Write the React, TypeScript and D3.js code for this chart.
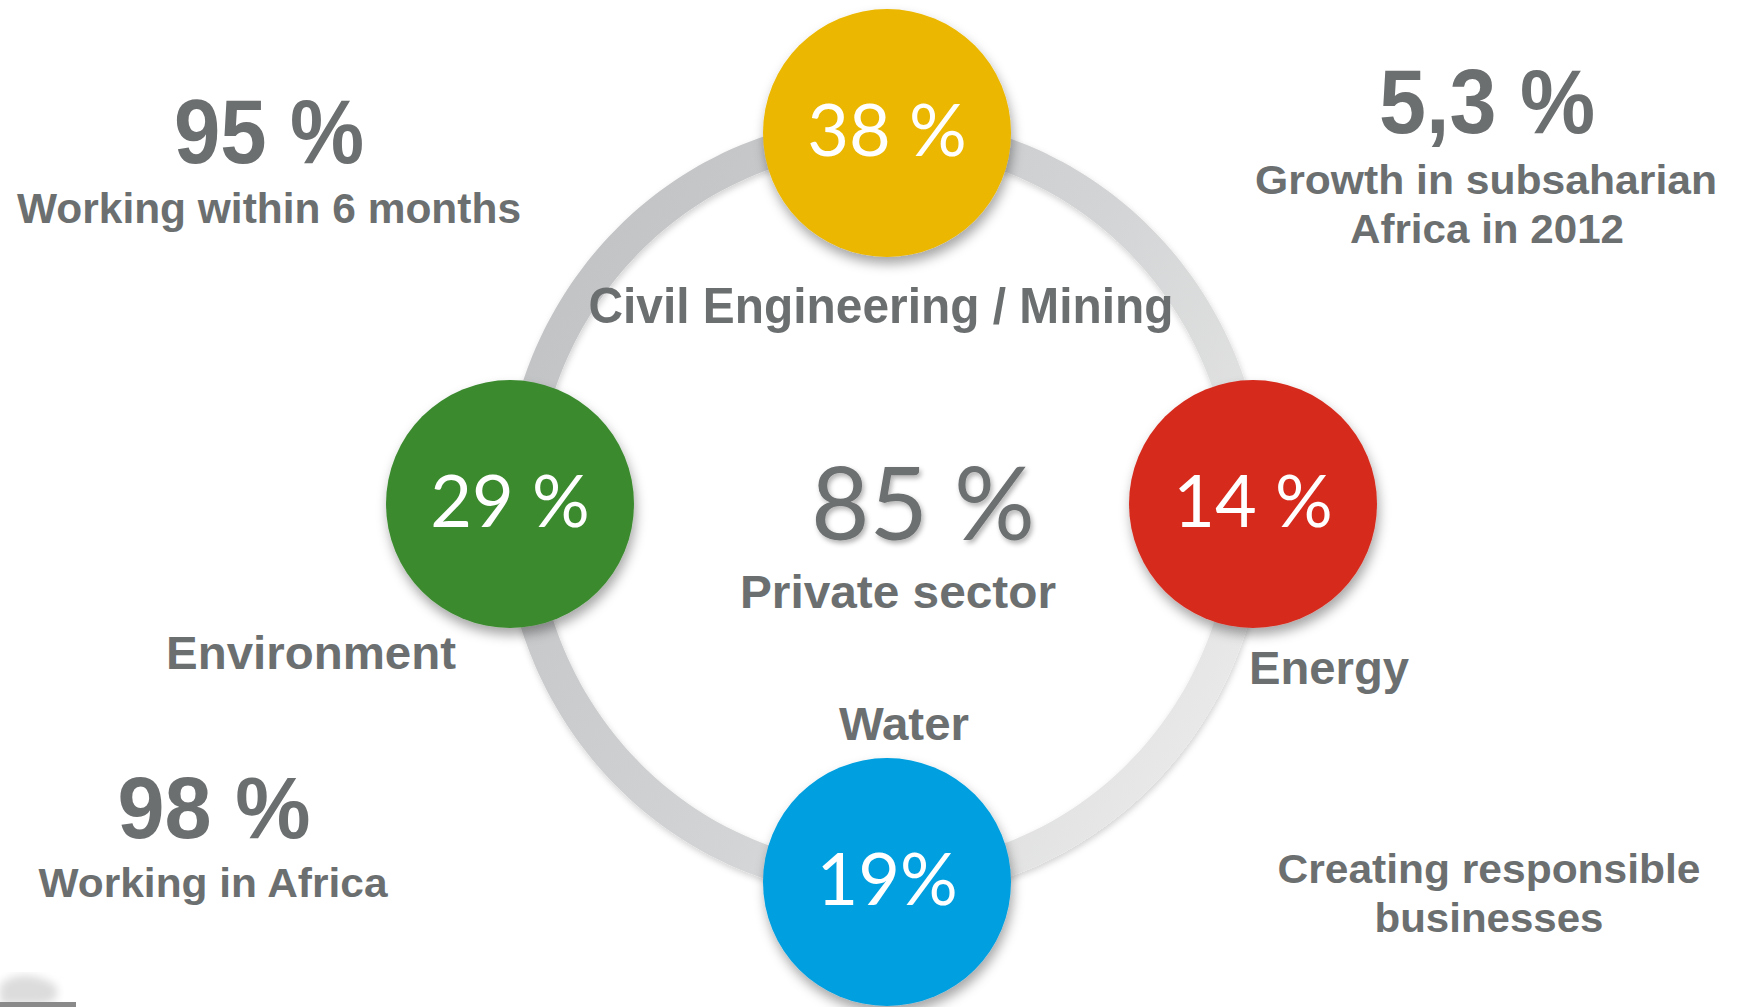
import React from "react";
import * as d3 from "d3";

// sectors around the ring, clockwise from the top
const sectorNames = ["Civil Engineering / Mining", "Energy", "Water", "Environment"];
const sectorShares = ["38 %", "14 %", "19%", "29 %"];
const sectorColors = ["#ebb700", "#d52b1e", "#009fdf", "#3b8a2f"];

const centerValue = "85 %";
const centerLabel = "Private sector";

// side facts
const factValues = ["95 %", "5,3 %", "98 %", ""];
const factLines = [
  ["Working within 6 months"],
  ["Growth in subsaharian", "Africa in 2012"],
  ["Working in Africa"],
  ["Creating responsible", "businesses"],
];

const W = 1737;
const H = 1007;
const GREY = "#6c6f70";
const BOLD = "'Liberation Sans', Arial, sans-serif";
const NUM = "Lato, 'Open Sans', sans-serif";

// text layout: [x, baseline, fontSize, textLength]
const sectorLabelPos: [number, number, number, number, string][] = [
  [881, 323, 50, 585, "middle"],
  [1249, 684, 46, 160, "start"],
  [904, 740, 46, 130, "middle"],
  [311, 669, 46, 290, "middle"],
];
const factValuePos = [
  [269, 163, 90, 190],
  [1487, 133, 90, 216],
  [214, 838, 88, 193],
  [0, 0, 0, 0],
];
const factLinePos = [
  [[269, 223, 43, 504]],
  [[1486, 194, 41, 462], [1487, 243, 41, 274]],
  [[213, 897, 41, 349]],
  [[1489, 883, 40, 423], [1489, 932, 40, 229]],
];

const App = () => {
  const svgRef = React.useRef<SVGSVGElement>(null);

  React.useEffect(() => {
    document.body.style.margin = "0";
    const svg = d3.select(svgRef.current);
    svg.selectAll("*").remove();

    svg.append("rect").attr("width", W).attr("height", H).attr("fill", "#ffffff");

    const defs = svg.append("defs");
    const grad = defs.append("linearGradient")
      .attr("id", "ringGrad")
      .attr("x1", "0").attr("y1", "0.2")
      .attr("x2", "1").attr("y2", "0.8");
    grad.append("stop").attr("offset", "0").attr("stop-color", "#c1c2c4");
    grad.append("stop").attr("offset", "0.55").attr("stop-color", "#d3d4d5");
    grad.append("stop").attr("offset", "1").attr("stop-color", "#ebebeb");

    const shadow = defs.append("filter").attr("id", "circShadow")
      .attr("x", "-30%").attr("y", "-30%").attr("width", "160%").attr("height", "160%");
    shadow.append("feDropShadow")
      .attr("dx", 2).attr("dy", 7).attr("stdDeviation", 6)
      .attr("flood-color", "#000").attr("flood-opacity", 0.35);

    const ringShadow = defs.append("filter").attr("id", "ringShadow")
      .attr("x", "-10%").attr("y", "-10%").attr("width", "120%").attr("height", "120%");
    ringShadow.append("feDropShadow")
      .attr("dx", 1).attr("dy", 3).attr("stdDeviation", 3)
      .attr("flood-color", "#000").attr("flood-opacity", 0.18);

    const textShadow = defs.append("filter").attr("id", "textShadow")
      .attr("x", "-10%").attr("y", "-10%").attr("width", "120%").attr("height", "130%");
    textShadow.append("feDropShadow")
      .attr("dx", 2).attr("dy", 3).attr("stdDeviation", 2.5)
      .attr("flood-color", "#000").attr("flood-opacity", 0.3);

    const blur = defs.append("filter").attr("id", "blur");
    blur.append("feGaussianBlur").attr("stdDeviation", 4);

    // node positions (piecewise: left/centre/right, top/centre/bottom)
    const x = d3.scaleLinear().domain([-1, 0, 1]).range([510, 887, 1253]);
    const y = d3.scaleLinear().domain([-1, 0, 1]).range([133, 504, 882]);
    const angle = d3.scaleLinear().domain([0, sectorNames.length]).range([0, 2 * Math.PI]);

    // ring itself sits slightly inside the node centres horizontally
    const rx = d3.scaleLinear().domain([-1, 1]).range([519, 1249]);
    const ry = d3.scaleLinear().domain([-1, 1]).range([133, 882]);
    const ringPts: [number, number][] = d3.range(0, 360, 2).map(deg => {
      const t = (deg * Math.PI) / 180;
      return [rx(Math.sin(t)), ry(-Math.cos(t))];
    });
    svg.append("path")
      .attr("d", d3.line().curve(d3.curveCardinalClosed)(ringPts))
      .attr("fill", "none")
      .attr("stroke", "url(#ringGrad)")
      .attr("stroke-width", 33)
      .attr("filter", "url(#ringShadow)");

    // faint logo remnant bottom-left
    svg.append("path")
      .attr("d", "M0,985 C15,970 40,975 55,985 C60,995 58,1003 40,1004 L0,1004 Z")
      .attr("fill", "#dcdcdc")
      .attr("filter", "url(#blur)");
    svg.append("rect").attr("x", 0).attr("y", 1002).attr("width", 76).attr("height", 5).attr("fill", "#8a8a8a");

    // center
    svg.append("text")
      .attr("x", 923).attr("y", 540)
      .attr("text-anchor", "middle")
      .attr("font-family", NUM).attr("font-size", 101)
      .attr("fill", GREY)
      .attr("filter", "url(#textShadow)")
      .text(centerValue);
    svg.append("text")
      .attr("x", 898).attr("y", 608)
      .attr("text-anchor", "middle")
      .attr("font-family", BOLD).attr("font-weight", "bold").attr("font-size", 47)
      .attr("textLength", 316).attr("lengthAdjust", "spacingAndGlyphs")
      .attr("fill", GREY)
      .text(centerLabel);

    // sector labels
    svg.append("g").selectAll("text")
      .data(sectorNames)
      .join("text")
      .attr("x", (d, i) => sectorLabelPos[i][0])
      .attr("y", (d, i) => sectorLabelPos[i][1])
      .attr("font-size", (d, i) => sectorLabelPos[i][2])
      .attr("textLength", (d, i) => sectorLabelPos[i][3])
      .attr("text-anchor", (d, i) => sectorLabelPos[i][4])
      .attr("lengthAdjust", "spacingAndGlyphs")
      .attr("font-family", BOLD).attr("font-weight", "bold")
      .attr("fill", GREY)
      .text(d => d);

    // sector circles
    const nodes = svg.append("g").selectAll("g")
      .data(sectorShares)
      .join("g")
      .attr("transform", (d, i) => `translate(${x(Math.sin(angle(i)))},${y(-Math.cos(angle(i)))})`);
    nodes.append("circle")
      .attr("r", 124)
      .attr("fill", (d, i) => sectorColors[i])
      .attr("filter", "url(#circShadow)");
    nodes.append("text")
      .attr("y", 23)
      .attr("text-anchor", "middle")
      .attr("font-family", NUM).attr("font-size", 72)
      .attr("fill", "#ffffff")
      .text(d => d);

    // side facts
    const facts = svg.append("g");
    factValues.forEach((v, i) => {
      if (v) {
        const p = factValuePos[i];
        facts.append("text")
          .attr("x", p[0]).attr("y", p[1])
          .attr("text-anchor", "middle")
          .attr("font-family", BOLD).attr("font-weight", "bold").attr("font-size", p[2])
          .attr("textLength", p[3]).attr("lengthAdjust", "spacingAndGlyphs")
          .attr("fill", GREY)
          .text(v);
      }
      factLines[i].forEach((line, j) => {
        const p = factLinePos[i][j];
        facts.append("text")
          .attr("x", p[0]).attr("y", p[1])
          .attr("text-anchor", "middle")
          .attr("font-family", BOLD).attr("font-weight", "bold").attr("font-size", p[2])
          .attr("textLength", p[3]).attr("lengthAdjust", "spacingAndGlyphs")
          .attr("fill", GREY)
          .text(line);
      });
    });
  }, []);

  return (
    <svg
      ref={svgRef}
      width={W}
      height={H}
      style={{ display: "block", position: "absolute", left: 0, top: 0 }}
    />
  );
};

export default App;
